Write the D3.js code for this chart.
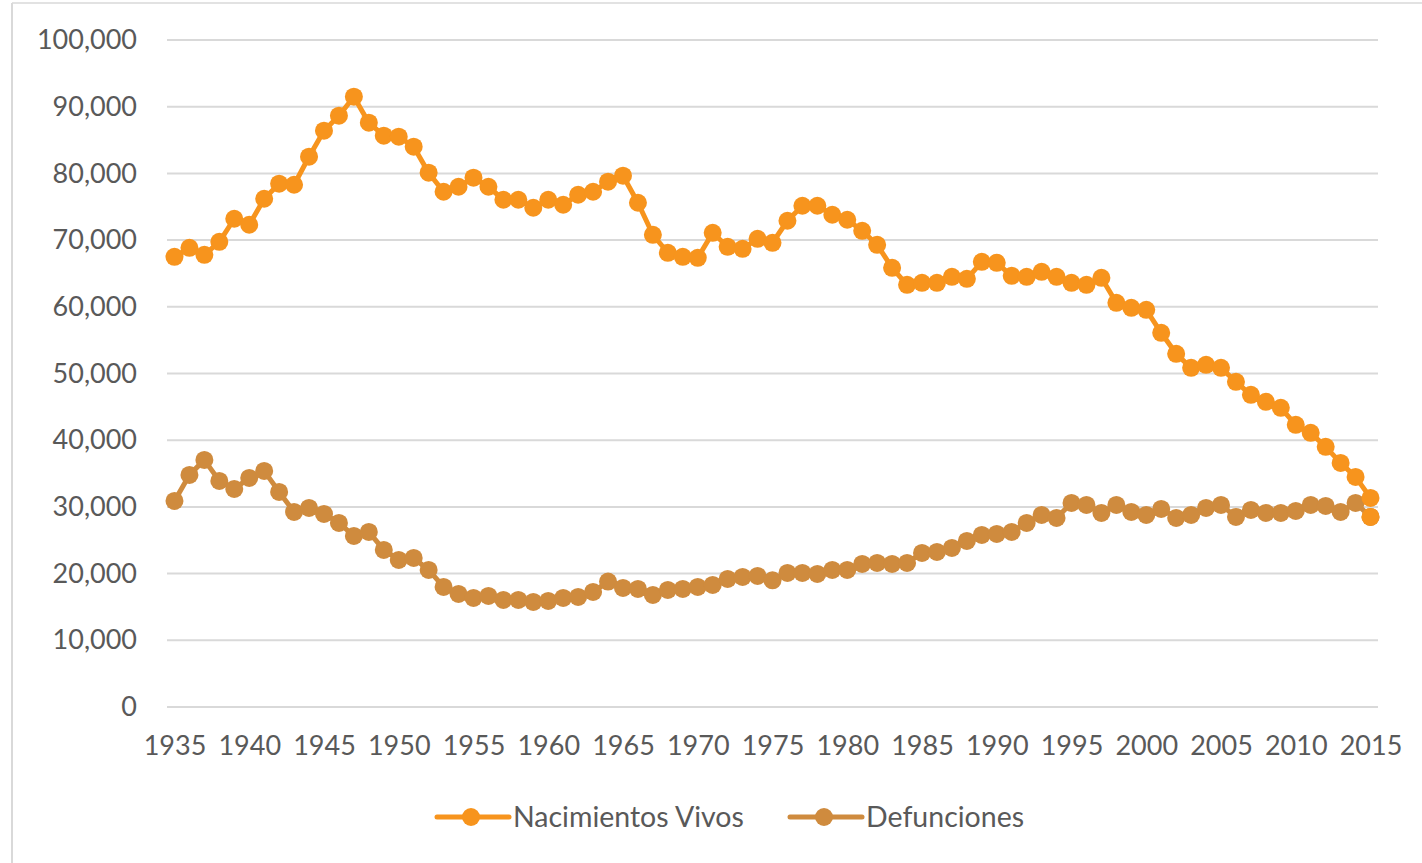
<!DOCTYPE html>
<html>
<head>
<meta charset="utf-8">
<script src="https://cdn.jsdelivr.net/npm/d3@7"></script>
<style>
    body { margin: 0; background: #fff; }
    svg { display: block; font-family: Lato, "Open Sans", sans-serif; }
</style>
</head>
<body>
<svg id="chart" width="1422" height="863"></svg>
<script>
const years = d3.range(1935, 2016);

const nacimientos = [
    67500, 68850, 67800, 69750, 73200, 72300, 76200, 78450, 78300, 82500,
    86400, 88650, 91500, 87600, 85650, 85500, 84000, 80100, 77250, 78000,
    79350, 78000, 76050, 76050, 74850, 76050, 75300, 76800, 77250, 78750,
    79650, 75600, 70800, 68100, 67500, 67350, 71100, 69000, 68700, 70200,
    69600, 72900, 75150, 75150, 73800, 73050, 71400, 69300, 65850, 63300,
    63600, 63600, 64500, 64200, 66750, 66600, 64650, 64500, 65250, 64500,
    63600, 63300, 64350, 60600, 59850, 59550, 56100, 52950, 50850, 51300,
    50850, 48750, 46800, 45750, 44850, 42300, 41100, 39000, 36600, 34500,
    31350
];

const defunciones = [
    30900, 34800, 37050, 33900, 32700, 34350, 35400, 32250, 29250, 29850,
    28950, 27600, 25650, 26250, 23550, 22050, 22350, 20550, 18000, 16950,
    16350, 16650, 16050, 16050, 15750, 15900, 16350, 16500, 17250, 18800,
    17850, 17700, 16800, 17550, 17700, 18000, 18300, 19200, 19500, 19650,
    19000, 20100, 20100, 19950, 20550, 20550, 21450, 21600, 21450, 21600,
    23100, 23250, 23850, 24900, 25800, 25950, 26250, 27600, 28800, 28350,
    30600, 30300, 29100, 30300, 29250, 28800, 29700, 28350, 28800, 29850,
    30300, 28500, 29550, 29100, 29100, 29400, 30300, 30150, 29250, 30600,
    28500
];

const seriesNames = ["Nacimientos Vivos", "Defunciones"];
const yTicks = d3.range(0, 100001, 10000);
const xTickYears = years.filter((yr) => yr % 5 === 0);

const colors = { nac: "#f7941d", def: "#cf8b3e", grid: "#d9d9d9", text: "#595959" };
const margin = { left: 167, right: 44, top: 40, bottom: 156 };
const W = 1422, H = 863;

const svg = d3.select("#chart");

// outer frame (left + top edges only are visible)
svg.append("line").attr("x1", 12).attr("x2", 12).attr("y1", 3).attr("y2", H)
    .attr("stroke", colors.grid).attr("stroke-width", 2);
svg.append("line").attr("x1", 12).attr("x2", W).attr("y1", 3).attr("y2", 3)
    .attr("stroke", colors.grid).attr("stroke-width", 1.5);

const x = d3.scalePoint()
    .domain(years)
    .range([margin.left, W - margin.right])
    .padding(0.5);

const y = d3.scaleLinear()
    .domain([0, 100000])
    .range([H - margin.bottom, margin.top]);

// gridlines
svg.append("g")
    .selectAll("line")
    .data(yTicks)
    .join("line")
    .attr("x1", margin.left)
    .attr("x2", W - margin.right)
    .attr("y1", (d) => y(d))
    .attr("y2", (d) => y(d))
    .attr("stroke", colors.grid)
    .attr("stroke-width", 2);

const yAxis = d3.axisLeft(y).tickValues(yTicks).tickFormat(d3.format(",")).tickSize(0).tickPadding(30);
svg.append("g")
    .attr("transform", `translate(${margin.left}, 0)`)
    .call(yAxis)
    .call((g) => g.select(".domain").remove())
    .call((g) => g.selectAll("text")
        .attr("fill", colors.text)
        .style("font-size", "27px")
        .style("font-family", "Lato, sans-serif"));

const xAxis = d3.axisBottom(x).tickValues(xTickYears).tickSize(0).tickPadding(29);
svg.append("g")
    .attr("transform", `translate(0, ${y(0)})`)
    .call(xAxis)
    .call((g) => g.select(".domain").remove())
    .call((g) => g.selectAll("text")
        .attr("fill", colors.text)
        .style("font-size", "27px")
        .style("font-family", "Lato, sans-serif"));

const line = d3.line()
    .x((d, i) => x(years[i]))
    .y((d) => y(d));

const drawSeries = (values, color) => {
    const g = svg.append("g");
    g.append("path")
        .datum(values)
        .attr("d", line)
        .attr("fill", "none")
        .attr("stroke", color)
        .attr("stroke-width", 5)
        .attr("stroke-linejoin", "round");
    g.selectAll("circle")
        .data(values)
        .join("circle")
        .attr("cx", (d, i) => x(years[i]))
        .attr("cy", (d) => y(d))
        .attr("r", 9)
        .attr("fill", color);
    return g;
};

drawSeries(defunciones, colors.def);
drawSeries(nacimientos, colors.nac);

// the last Defunciones marker shows in orange in the original
const lastIdx = years.length - 1;
svg.append("circle")
    .attr("cx", x(years[lastIdx]))
    .attr("cy", y(defunciones[lastIdx]))
    .attr("r", 9)
    .attr("fill", colors.nac);

// legend
const legendItems = [
    { name: seriesNames[0], color: colors.nac, x0: 437 },
    { name: seriesNames[1], color: colors.def, x0: 790 }
];
const legendY = 817;
const lg = svg.append("g");
legendItems.forEach((it) => {
    lg.append("line")
        .attr("x1", it.x0).attr("x2", it.x0 + 72)
        .attr("y1", legendY).attr("y2", legendY)
        .attr("stroke", it.color).attr("stroke-width", 5)
        .attr("stroke-linecap", "round");
    lg.append("circle")
        .attr("cx", it.x0 + 34).attr("cy", legendY)
        .attr("r", 9).attr("fill", it.color);
    lg.append("text")
        .attr("x", it.x0 + 76)
        .attr("y", legendY)
        .attr("dy", "0.35em")
        .attr("fill", colors.text)
        .style("font-size", "28.5px")
        .text(it.name);
});
</script>
</body>
</html>
